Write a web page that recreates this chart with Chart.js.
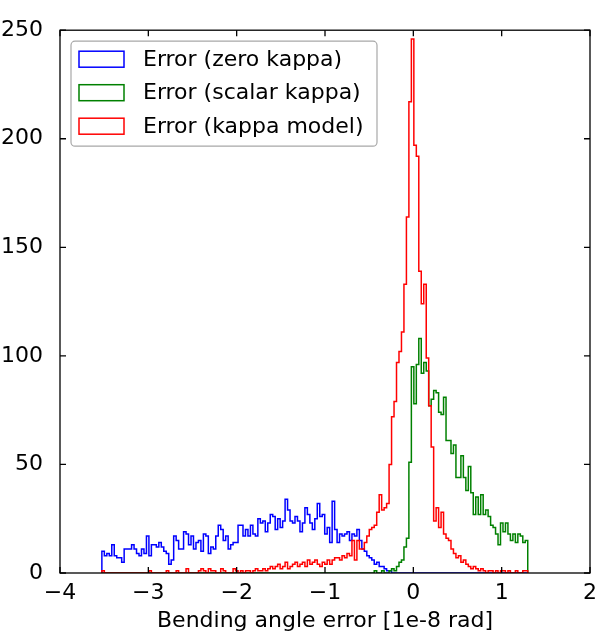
<!DOCTYPE html>
<html>
<head>
<meta charset="utf-8">
<script src="https://cdn.jsdelivr.net/npm/chart.js@4.4.1/dist/chart.umd.min.js"></script>
<style>
  body { margin: 0; background: #fff; }
</style>
</head>
<body>
<canvas id="myChart" width="604" height="634"></canvas>
<script>
// 172 equal bins, shared by the three histograms
const binStart = -3.526;
const binWidth = 0.02803;

const zeroKappa = [
  10,8,9,8,13,8,7,7,5,11,
  11,11,13,11,9,8,11,9,17,8,
  13,13,12,14,12,10,9,4,6,17,
  15,11,11,19,18,13,17,11,14,15,
  10,18,17,9,12,11,17,22,20,15,
  17,11,13,14,14,22,22,17,20,17,
  22,18,17,25,23,24,19,23,27,26,
  20,25,21,24,34,29,24,23,26,24,
  19,23,30,27,23,20,25,32,26,27,
  18,21,14,33,20,14,18,17,18,19,
  15,18,17,20,15,11,10,8,7,6,
  4,5,3,3,2,1,1,0,0,0,
  0,0,0,0,0,0,0,0,0,0,
  0,0,0,0,0,0,0,0,0,0,
  0,0,0,0,0,0,0,0,0,0,
  0,0,0,0,0,0,0,0,0,0,
  0,0,0,0,0,0,0,0,0,0,
  0,0
];

const scalarKappa = [
  0,0,0,0,0,0,0,0,0,0,
  0,0,0,0,0,0,0,0,0,0,
  0,0,0,0,0,0,0,0,0,0,
  0,0,0,0,0,0,0,0,0,0,
  0,0,0,0,0,0,0,0,0,0,
  0,0,0,0,0,0,0,0,0,0,
  0,0,0,0,0,0,0,0,0,0,
  0,0,0,0,0,0,0,0,0,0,
  0,0,0,0,0,0,0,0,0,0,
  0,0,0,0,0,0,0,0,0,0,
  0,0,0,0,0,0,0,0,0,0,
  1,0,0,1,0,0,1,2,1,3,
  5,6,12,16,51,95,78,96,108,92,
  97,93,77,80,84,83,74,73,81,61,
  61,55,59,44,44,54,44,38,49,37,
  27,35,27,36,27,29,26,22,21,18,
  13,23,19,23,18,15,18,14,18,17,
  14,15
];

const kappaModel = [
  1,0,0,0,0,0,0,0,0,0,
  0,0,0,0,0,0,0,0,0,1,
  0,0,0,0,0,0,1,0,0,0,
  1,0,0,0,2,0,0,0,0,1,
  2,1,0,2,1,1,0,0,2,1,
  0,0,0,2,1,0,1,0,1,1,
  0,1,2,1,1,2,1,2,3,2,
  3,4,2,3,5,2,3,4,5,3,
  4,5,3,6,4,5,6,4,3,5,
  4,6,4,6,7,7,6,8,7,9,
  8,15,6,15,11,11,14,17,20,21,
  22,28,36,29,30,32,50,72,79,97,
  102,111,133,164,217,246,197,192,139,124,
  133,99,77,58,24,30,21,28,18,16,
  15,11,9,7,8,5,6,4,3,2,
  3,2,1,2,1,0,1,1,0,1,
  0,1,1,0,1,0,0,1,0,0,
  1,1
];

const seriesLabels = ['Error (zero kappa)', 'Error (scalar kappa)', 'Error (kappa model)'];
const seriesColors = ['#0000ff', '#008000', '#ff0000'];
const xTicks = [-4, -3, -2, -1, 0, 1, 2];
const yTicks = [0, 50, 100, 150, 200, 250];
const xLabel = 'Bending angle error [1e-8 rad]';

const FONT = "'DejaVu Sans', sans-serif";

// outline of a step histogram: up from 0 at the first edge, down to 0 at the last
function stepPoints(counts) {
    var pts = [{x: binStart, y: 0}];
    for (var k = 0; k < counts.length; k++) {
        pts.push({x: binStart + k * binWidth, y: counts[k]});
    }
    pts.push({x: binStart + counts.length * binWidth, y: 0});
    return pts;
}

function minusSign(v) {
    return v < 0 ? '\u2212' + Math.abs(v) : String(v);
}

// box round the axes and inward ticks on all four sides
const framePlugin = {
    id: 'frame',
    afterDatasetsDraw(chart) {
        const ctx = chart.ctx;
        const a = chart.chartArea;
        const xs = chart.scales.x, ys = chart.scales.y;
        ctx.save();
        ctx.strokeStyle = '#000';
        ctx.lineWidth = 1.3;
        ctx.strokeRect(a.left, a.top, a.right - a.left, a.bottom - a.top);
        ctx.beginPath();
        xs.ticks.forEach(function(t) {
            var px = xs.getPixelForValue(t.value);
            ctx.moveTo(px, a.bottom); ctx.lineTo(px, a.bottom - 6);
            ctx.moveTo(px, a.top); ctx.lineTo(px, a.top + 6);
        });
        ys.ticks.forEach(function(t) {
            var py = ys.getPixelForValue(t.value);
            ctx.moveTo(a.left, py); ctx.lineTo(a.left + 6, py);
            ctx.moveTo(a.right, py); ctx.lineTo(a.right - 6, py);
        });
        ctx.stroke();
        ctx.restore();
    }
};

// legend in the upper left corner of the axes, with outlined patches
const legendPlugin = {
    id: 'legendBox',
    afterDraw(chart) {
        const ctx = chart.ctx;
        const a = chart.chartArea;
        const bx = a.left + 11, by = a.top + 11, bw = 306, bh = 105, r = 4;
        ctx.save();
        ctx.beginPath();
        ctx.moveTo(bx + r, by);
        ctx.arcTo(bx + bw, by, bx + bw, by + bh, r);
        ctx.arcTo(bx + bw, by + bh, bx, by + bh, r);
        ctx.arcTo(bx, by + bh, bx, by, r);
        ctx.arcTo(bx, by, bx + bw, by, r);
        ctx.closePath();
        ctx.fillStyle = '#fff';
        ctx.fill();
        ctx.strokeStyle = '#a8a8a8';
        ctx.lineWidth = 1.2;
        ctx.stroke();

        ctx.font = '22px ' + FONT;
        ctx.textBaseline = 'middle';
        ctx.textAlign = 'left';
        chart.data.datasets.forEach(function(ds, i) {
            var cy = by + 18 + i * 33.5;
            ctx.strokeStyle = ds.borderColor;
            ctx.lineWidth = 1.5;
            ctx.strokeRect(bx + 8, cy - 8, 45, 16);
            ctx.fillStyle = '#000';
            ctx.fillText(ds.label, bx + 72, cy + 1);
        });
        ctx.restore();
    }
};

const datasets = [zeroKappa, scalarKappa, kappaModel].map(function(counts, i) {
    return {
        label: seriesLabels[i],
        data: stepPoints(counts),
        borderColor: seriesColors[i],
        backgroundColor: seriesColors[i],
        borderWidth: 1.5,
        fill: false,
        stepped: 'before',
        pointRadius: 0,
        order: 3 - i
    };
});

const ctx = document.getElementById('myChart').getContext('2d');
const chart = new Chart(ctx, {
    type: 'line',
    data: { datasets: datasets },
    options: {
        responsive: false,
        animation: false,
        layout: { padding: { top: 23, right: 7, left: 0, bottom: 0 } },
        plugins: {
            legend: { display: false },
            tooltip: { enabled: false }
        },
        scales: {
            x: {
                type: 'linear',
                min: xTicks[0],
                max: xTicks[xTicks.length - 1],
                afterBuildTicks: function(scale) {
                    scale.ticks = xTicks.map(function(v) { return {value: v}; });
                },
                afterFit: function(scale) { scale.height = 61; },
                grid: { display: false, drawTicks: false },
                border: { display: false },
                ticks: {
                    padding: 7,
                    color: '#000',
                    font: { family: FONT, size: 22 },
                    maxRotation: 0,
                    callback: function(v) { return minusSign(v); }
                },
                title: {
                    display: true,
                    text: xLabel,
                    color: '#000',
                    font: { family: FONT, size: 22 },
                    padding: { top: 0, bottom: 0 }
                }
            },
            y: {
                type: 'linear',
                min: yTicks[0],
                max: yTicks[yTicks.length - 1],
                afterBuildTicks: function(scale) {
                    scale.ticks = yTicks.map(function(v) { return {value: v}; });
                },
                afterFit: function(scale) { scale.width = 60; },
                grid: { display: false, drawTicks: false },
                border: { display: false },
                ticks: {
                    padding: 17,
                    color: '#000',
                    font: { family: FONT, size: 22 },
                    callback: function(v) { return minusSign(v); }
                }
            }
        }
    },
    plugins: [framePlugin, legendPlugin]
});
</script>
</body>
</html>
